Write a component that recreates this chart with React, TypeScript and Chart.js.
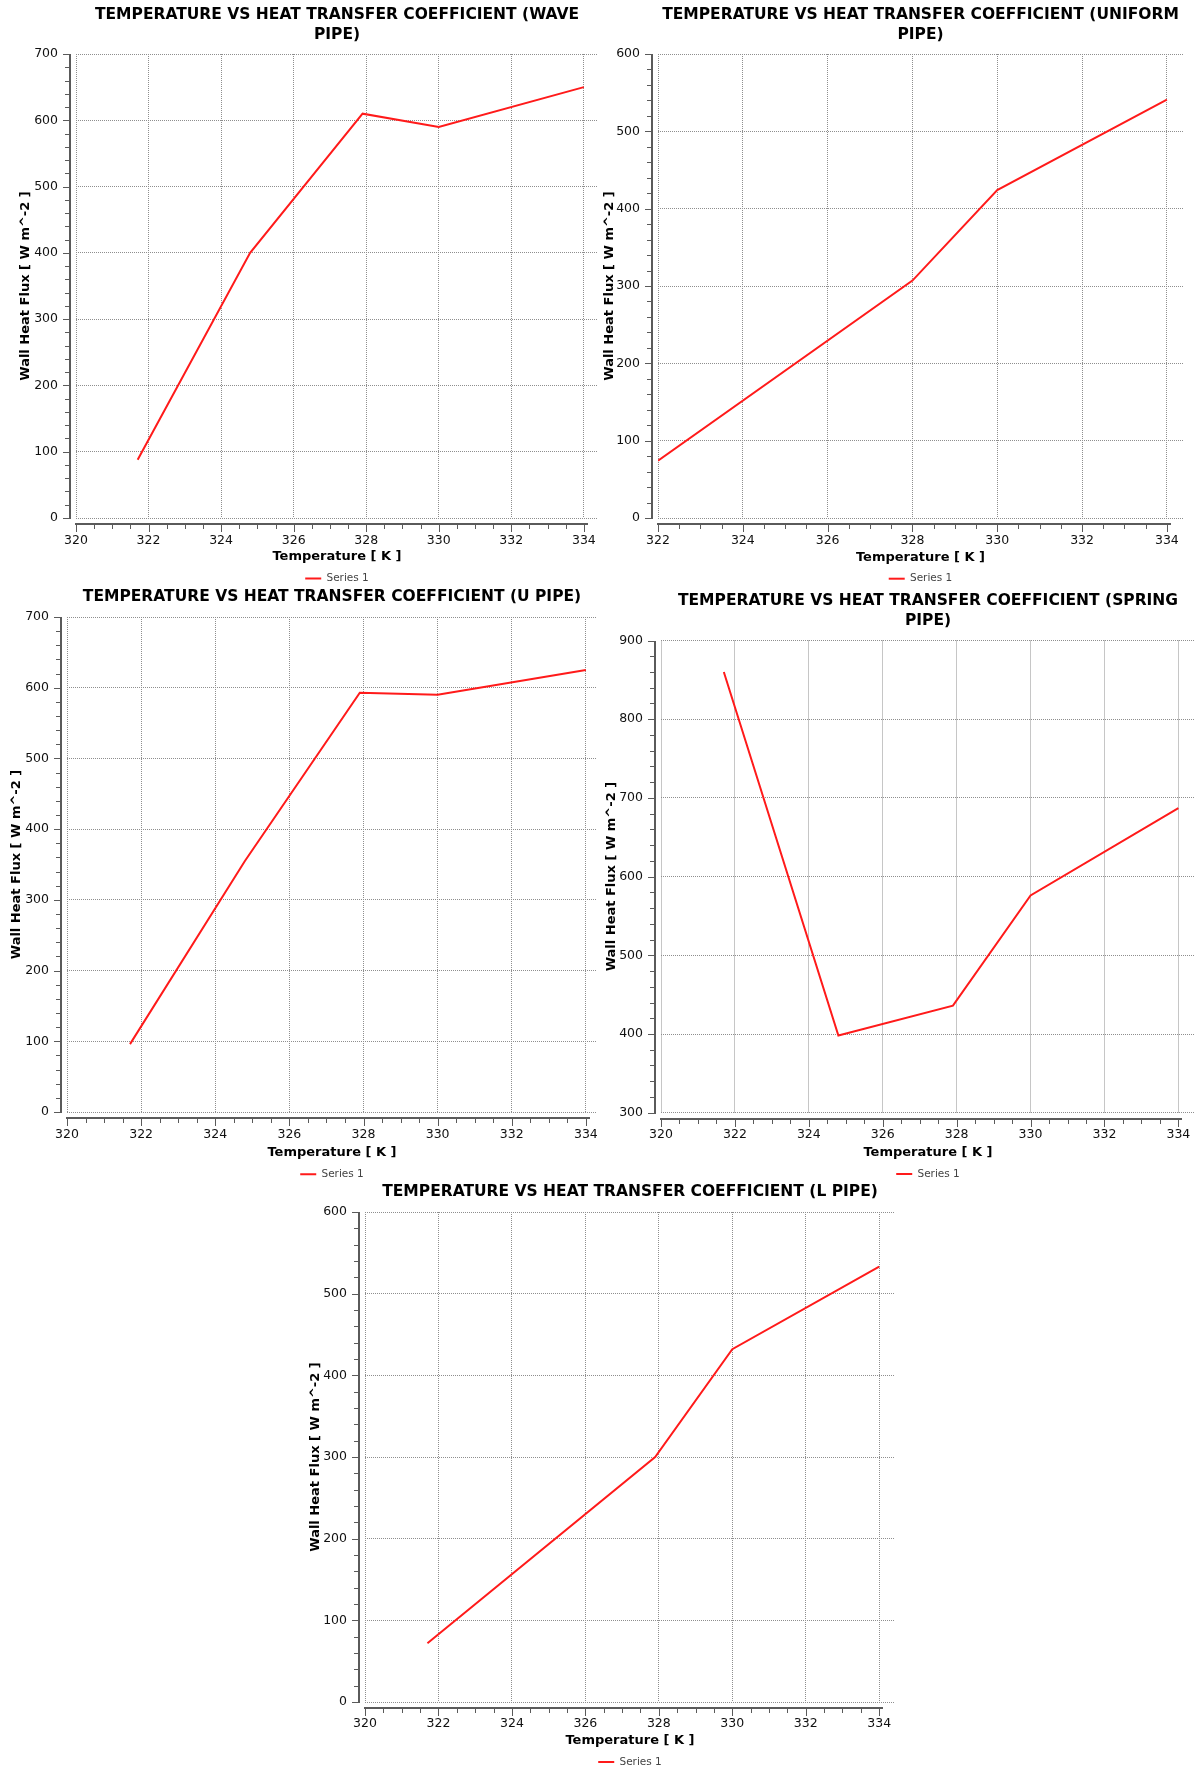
import React, { useEffect, useRef } from 'react';
import { Chart, registerables } from 'chart.js';

Chart.register(...registerables);

// ---------------- data ----------------
const waveTemps = [321.7, 324.8, 327.9, 330, 334];
const waveFlux = [88, 400, 610, 590, 650];

const uniformTemps = [322, 328, 330, 334];
const uniformFlux = [74, 307, 424, 541];

const uPipeTemps = [321.7, 324.8, 327.9, 330, 334];
const uPipeFlux = [96, 355, 593, 590, 625];

const springTemps = [321.7, 324.8, 327.9, 330, 334];
const springFlux = [860, 398, 436, 576, 687];

const lPipeTemps = [321.7, 327.9, 330, 334];
const lPipeFlux = [72, 300, 432, 533];

const waveTitle = ['TEMPERATURE VS HEAT TRANSFER COEFFICIENT (WAVE', 'PIPE)'];
const uniformTitle = ['TEMPERATURE VS HEAT TRANSFER COEFFICIENT (UNIFORM', 'PIPE)'];
const uPipeTitle = ['TEMPERATURE VS HEAT TRANSFER COEFFICIENT (U PIPE)'];
const springTitle = ['TEMPERATURE VS HEAT TRANSFER COEFFICIENT (SPRING', 'PIPE)'];
const lPipeTitle = ['TEMPERATURE VS HEAT TRANSFER COEFFICIENT (L PIPE)'];

const xAxisTitle = 'Temperature [ K ]';
const yAxisTitle = 'Wall Heat Flux [ W m^-2 ]';
const seriesName = 'Series 1';

// axis ranges: [min, max, major step, minor step]
const waveXRange = [320, 334.39, 2, 0.5];
const waveYRange = [0, 700, 100, 20];
const uniformXRange = [322, 334.38, 2, 0.5];
const uniformYRange = [0, 600, 100, 20];
const uPipeXRange = [320, 334.3, 2, 0.5];
const uPipeYRange = [0, 700, 100, 20];
const springXRange = [320, 334.45, 2, 0.5];
const springYRange = [300, 900, 100, 20];
const lPipeXRange = [320, 334.43, 2, 0.5];
const lPipeYRange = [0, 600, 100, 20];
const lastXTick = 334;

// ---------------- styles ----------------
const FONT = "'DejaVu Sans', 'Liberation Sans', sans-serif";
const TITLE_SIZE = 15.5;
const TITLE_LH = 19.5;
const TICK_SIZE = 12.5;
const TICK_LH = TICK_SIZE * 1.2;
const AXT_SIZE = 13;
const AXT_LH = AXT_SIZE * 1.2;
const LEG_SIZE = 10.5;
const RIGHT_PAD = 20;

type Layout = {
  box: { x: number; y: number };
  plot: { l: number; t: number; r: number; b: number };
  titleY: number;
  xLabelY: number;
  xTitleY: number;
  legendY: number;
  yTitleX: number;
};

type Spec = {
  title: string[];
  temps: number[];
  flux: number[];
  xr: number[];
  yr: number[];
  layout: Layout;
};

const specs: Spec[] = [
  {
    title: waveTitle, temps: waveTemps, flux: waveFlux, xr: waveXRange, yr: waveYRange,
    layout: { box: { x: 0, y: 0 }, plot: { l: 76, t: 54, r: 598, b: 518 }, titleY: 15, xLabelY: 540.7, xTitleY: 557, legendY: 578.5, yTitleX: 26 },
  },
  {
    title: uniformTitle, temps: uniformTemps, flux: uniformFlux, xr: uniformXRange, yr: uniformYRange,
    layout: { box: { x: 600, y: 0 }, plot: { l: 658, t: 54, r: 1183, b: 518 }, titleY: 15, xLabelY: 540.7, xTitleY: 557.3, legendY: 578.7, yTitleX: 610 },
  },
  {
    title: uPipeTitle, temps: uPipeTemps, flux: uPipeFlux, xr: uPipeXRange, yr: uPipeYRange,
    layout: { box: { x: 0, y: 584 }, plot: { l: 67, t: 617, r: 597, b: 1112 }, titleY: 597, xLabelY: 1135, xTitleY: 1153, legendY: 1174.3, yTitleX: 16.5 },
  },
  {
    title: springTitle, temps: springTemps, flux: springFlux, xr: springXRange, yr: springYRange,
    layout: { box: { x: 600, y: 584 }, plot: { l: 661, t: 640.5, r: 1195, b: 1112.7 }, titleY: 601, xLabelY: 1135, xTitleY: 1153, legendY: 1174, yTitleX: 611.4 },
  },
  {
    title: lPipeTitle, temps: lPipeTemps, flux: lPipeFlux, xr: lPipeXRange, yr: lPipeYRange,
    layout: { box: { x: 290, y: 1175 }, plot: { l: 365, t: 1212, r: 895, b: 1702 }, titleY: 1192.4, xLabelY: 1724, xTitleY: 1741, legendY: 1762, yTitleX: 315.7 },
  },
];

// draws the offset axis lines with major + minor tick marks (positions from the scales)
const axisDecorPlugin = {
  id: 'axisDecor',
  afterDraw(chart: any, _args: any, opts: any) {
    const { ctx, chartArea } = chart;
    const xs = chart.scales.x;
    const ys = chart.scales.y;
    const off = opts.offset;
    ctx.save();
    ctx.strokeStyle = opts.color;

    // Y axis
    const ax = Math.round(chartArea.left - off);
    const yTop = Math.round(ys.getPixelForValue(ys.max));
    const yBot = Math.round(ys.getPixelForValue(ys.min));
    ctx.lineWidth = 2;
    ctx.beginPath();
    ctx.moveTo(ax, yTop);
    ctx.lineTo(ax, yBot + 1);
    ctx.stroke();
    ctx.lineWidth = 1;
    const nY = Math.round((ys.max - ys.min) / opts.yMinor);
    for (let i = 0; i <= nY; i++) {
      const v = ys.min + i * opts.yMinor;
      const r = v / opts.yMajor;
      const major = Math.abs(r - Math.round(r)) < 1e-6;
      const py = Math.round(ys.getPixelForValue(v)) + 0.5;
      ctx.beginPath();
      ctx.moveTo(ax, py);
      ctx.lineTo(ax - (major ? 7 : 5), py);
      ctx.stroke();
    }

    // X axis
    const ay = Math.round(chartArea.bottom + off);
    const xL = Math.round(xs.getPixelForValue(xs.min));
    const xR = Math.round(xs.getPixelForValue(opts.xEnd));
    ctx.lineWidth = 2;
    ctx.beginPath();
    ctx.moveTo(xL - 1, ay);
    ctx.lineTo(xR + 4, ay);
    ctx.stroke();
    ctx.lineWidth = 1;
    const nX = Math.round((opts.xEnd - xs.min) / opts.xMinor);
    for (let i = 0; i <= nX; i++) {
      const v = xs.min + i * opts.xMinor;
      const r = (v - xs.min) / opts.xMajor;
      const major = Math.abs(r - Math.round(r)) < 1e-6;
      const px = Math.round(xs.getPixelForValue(v)) + 0.5;
      ctx.beginPath();
      ctx.moveTo(px, ay);
      ctx.lineTo(px, ay + (major ? 8 : 5));
      ctx.stroke();
    }
    ctx.restore();
  },
};

function geometry(L: Layout, nTitle: number) {
  const w = L.plot.r + RIGHT_PAD - L.box.x;
  const titlePadTop = L.titleY - L.box.y - TITLE_LH / 2;
  const titlePadBottom = L.plot.t - L.box.y - titlePadTop - nTitle * TITLE_LH;
  const yWidth = L.plot.l - L.box.x;
  const xHeight = L.xTitleY + AXT_LH / 2 - L.plot.b;
  const xTickPad = L.xLabelY - L.plot.b - TICK_LH / 2;
  const yTitlePad = L.yTitleX - L.box.x - AXT_LH / 2;
  const legendPad = L.legendY - (L.plot.b + xHeight) - LEG_SIZE / 2;
  const legendH = LEG_SIZE + legendPad + 10;
  const contentBottom = L.plot.b + xHeight + legendH;
  const h = Math.ceil(contentBottom - L.box.y) + 3;
  const bottomPad = L.box.y + h - contentBottom;
  return { w, h, titlePadTop, titlePadBottom, yWidth, xHeight, xTickPad, yTitlePad, legendPad, bottomPad };
}

function buildConfig(spec: Spec): any {
  const L = spec.layout;
  const g = geometry(L, spec.title.length);
  const gridColor = '#8e8e8e';
  return {
    type: 'line',
    data: {
      datasets: [
        {
          label: seriesName,
          data: spec.temps.map((t, i) => ({ x: t, y: spec.flux[i] })),
          borderColor: '#ff1a1a',
          backgroundColor: '#ff1a1a',
          borderWidth: 2,
          pointRadius: 0,
          pointStyle: 'line',
          tension: 0,
          fill: false,
        },
      ],
    },
    options: {
      responsive: false,
      animation: false,
      events: [],
      layout: { padding: { left: 0, top: 0, right: RIGHT_PAD, bottom: g.bottomPad } },
      plugins: {
        title: {
          display: true,
          text: spec.title,
          fullSize: false,
          color: '#000',
          font: { family: FONT, size: TITLE_SIZE, weight: 'bold', lineHeight: TITLE_LH + 'px' },
          padding: { top: g.titlePadTop, bottom: g.titlePadBottom },
        },
        legend: {
          display: true,
          position: 'bottom',
          fullSize: false,
          labels: {
            usePointStyle: true,
            pointStyleWidth: 16,
            padding: g.legendPad,
            color: '#444',
            font: { family: FONT, size: LEG_SIZE },
          },
        },
        tooltip: { enabled: false },
        axisDecor: {
          offset: 6,
          color: '#5a5a5a',
          xMajor: spec.xr[2],
          xMinor: spec.xr[3],
          yMajor: spec.yr[2],
          yMinor: spec.yr[3],
          xEnd: lastXTick,
        },
      },
      scales: {
        x: {
          type: 'linear',
          min: spec.xr[0],
          max: spec.xr[1],
          afterFit: (s: any) => {
            s.height = g.xHeight;
          },
          ticks: {
            stepSize: spec.xr[2],
            includeBounds: false,
            autoSkip: false,
            maxRotation: 0,
            minRotation: 0,
            padding: g.xTickPad,
            color: '#111',
            font: { family: FONT, size: TICK_SIZE, lineHeight: 1.2 },
          },
          grid: { color: gridColor, lineWidth: 1, drawTicks: false, borderDash: [1, 1] },
          border: { display: false, dash: [1, 1] },
          title: {
            display: true,
            text: xAxisTitle,
            color: '#000',
            padding: { top: 0, bottom: 0 },
            font: { family: FONT, size: AXT_SIZE, weight: 'bold', lineHeight: 1.2 },
          },
        },
        y: {
          type: 'linear',
          min: spec.yr[0],
          max: spec.yr[1],
          afterFit: (s: any) => {
            s.width = g.yWidth;
          },
          ticks: {
            stepSize: spec.yr[2],
            autoSkip: false,
            padding: 18,
            color: '#111',
            font: { family: FONT, size: TICK_SIZE, lineHeight: 1.2 },
          },
          grid: { color: gridColor, lineWidth: 1, drawTicks: false, borderDash: [1, 1] },
          border: { display: false, dash: [1, 1] },
          title: {
            display: true,
            text: yAxisTitle,
            color: '#000',
            padding: { top: g.yTitlePad, bottom: 0 },
            font: { family: FONT, size: AXT_SIZE, weight: 'bold', lineHeight: 1.2 },
          },
        },
      },
    },
    plugins: [axisDecorPlugin],
  };
}

function Panel({ spec }: { spec: Spec }) {
  const ref = useRef<HTMLCanvasElement | null>(null);
  const g = geometry(spec.layout, spec.title.length);
  useEffect(() => {
    if (!ref.current) return;
    const chart = new Chart(ref.current, buildConfig(spec));
    return () => chart.destroy();
  }, [spec]);
  return (
    <canvas
      ref={ref}
      width={g.w}
      height={g.h}
      style={{ position: 'absolute', left: spec.layout.box.x, top: spec.layout.box.y, width: g.w, height: g.h }}
    />
  );
}

export default function App() {
  return (
    <>
      <style>{'html,body{margin:0;padding:0;background:#fff;}'}</style>
      <div style={{ position: 'relative', width: 1197, height: 1771, overflow: 'hidden', background: '#fff' }}>
        {specs.map((s, i) => (
          <Panel key={i} spec={s} />
        ))}
      </div>
    </>
  );
}
